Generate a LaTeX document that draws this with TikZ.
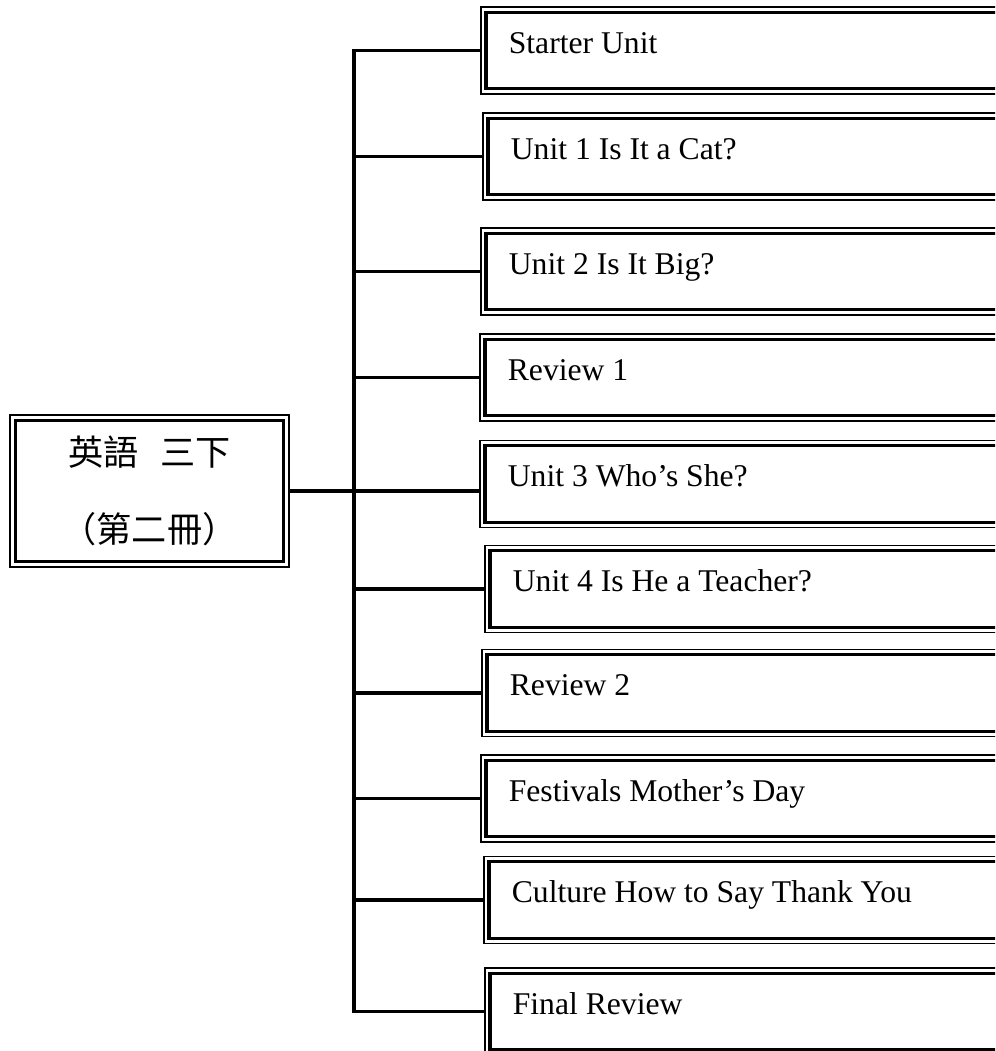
\documentclass[tikz,border=0pt]{standalone}
\usepackage{fontspec}
\setmainfont{Liberation Serif}
\newfontfamily\cjk{Noto Sans CJK TC}
\usepackage{tikz}
\tikzstyle{bookBox} = [rectangle, draw, line width=1.2pt, minimum width=6.975cm, minimum height=3.8cm, align=center, font=\cjk\fontsize{25}{55}\selectfont, path picture={\draw[line width=2.3pt] ([xshift=0.13cm,yshift=-0.13cm]path picture bounding box.north west) rectangle ([xshift=-0.13cm,yshift=0.13cm]path picture bounding box.south east);}]
\tikzstyle{unitBox} = [rectangle, draw, anchor=west, line width=1.2pt, minimum height=2.175cm, text width=15cm, inner xsep=0.7cm, align=flush left, text height=0.7em, text depth=0.32em, font=\fontsize{22.5}{27}\selectfont, path picture={\draw[line width=2.3pt] ([xshift=0.13cm,yshift=-0.13cm]path picture bounding box.north west) rectangle ([xshift=-0.13cm,yshift=0.13cm]path picture bounding box.south east);}]
\tikzstyle{branch} = [line width=2.2pt]

\begin{document}
\begin{tikzpicture}[x=0.025cm, y=-0.025cm]
    \useasboundingbox (0,0) rectangle (995,1051);
    \clip (0,0) rectangle (995,1051);
    \node (book) at (149.5,491) [bookBox] {英語\hspace{0.6em}三下\\（第二冊）};
    \coordinate (spine) at (354,491);
    \node (starter) at (480,50.5) [unitBox] {Starter Unit};
    \node (unitOne) at (482,156.5) [unitBox] {Unit 1 Is It a Cat?};
    \node (unitTwo) at (480,271.5) [unitBox] {Unit 2 Is It Big?};
    \node (reviewOne) at (479,377.5) [unitBox] {Review 1};
    \node (unitThree) at (479,484) [unitBox] {Unit 3 Who’s She?};
    \node (unitFour) at (484,589) [unitBox] {Unit 4 Is He a Teacher?};
    \node (reviewTwo) at (481,693) [unitBox] {Review 2};
    \node (festivals) at (480,798.5) [unitBox] {Festivals Mother’s Day};
    \node (culture) at (483,900) [unitBox] {Culture How to Say Thank You};
    \node (finalReview) at (484,1011.5) [unitBox] {Final Review};
    \draw [branch] (starter.west) -- (starter.west -| spine) -- (finalReview.west -| spine) -- (finalReview.west);
    \draw [branch] (book.east) -- (book.east -| unitThree.west);
    \draw [branch] (spine |- unitOne.west) -- (unitOne.west);
    \draw [branch] (spine |- unitTwo.west) -- (unitTwo.west);
    \draw [branch] (spine |- reviewOne.west) -- (reviewOne.west);
    \draw [branch] (spine |- unitFour.west) -- (unitFour.west);
    \draw [branch] (spine |- reviewTwo.west) -- (reviewTwo.west);
    \draw [branch] (spine |- festivals.west) -- (festivals.west);
    \draw [branch] (spine |- culture.west) -- (culture.west);
\end{tikzpicture}
\end{document}
